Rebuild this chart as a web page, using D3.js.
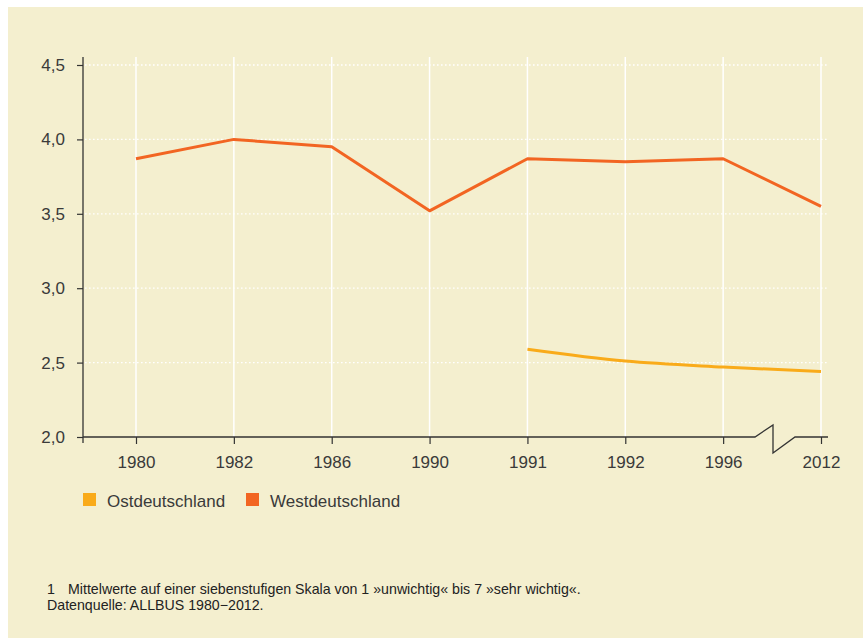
<!DOCTYPE html>
<html><head><meta charset="utf-8">
<script src="https://cdn.jsdelivr.net/npm/d3@7"></script>
<style>
html,body{margin:0;padding:0;background:#fff;}
svg{display:block;font-family:"Liberation Sans",Arial,Helvetica,sans-serif;}
</style></head>
<body>
<svg id="chart" width="863" height="638"></svg>
<script>
const years = ["1980","1982","1986","1990","1991","1992","1996","2012"];
const westValues = [3.87, 4.00, 3.95, 3.52, 3.87, 3.85, 3.87, 3.55];
const ostYears = ["1991","1992","1996","2012"];
const ostValues = [2.59, 2.51, 2.47, 2.44];
const yTicks = [2.0, 2.5, 3.0, 3.5, 4.0, 4.5];
const seriesNames = ["Ostdeutschland", "Westdeutschland"];
const seriesColors = ["#F9AB1A", "#F26522"];
const footnoteNum = "1";
const footnote1 = "Mittelwerte auf einer siebenstufigen Skala von 1 »unwichtig« bis 7 »sehr wichtig«.";
const footnote2 = "Datenquelle: ALLBUS 1980\u22122012.";

const svg = d3.select("#chart");
svg.append("rect").attr("x",8).attr("y",7).attr("width",855).attr("height",631).attr("fill","#F4EFCF");

const x = d3.scalePoint().domain(years).range([136, 821]);
const y = d3.scaleLinear().domain([2.0, 4.5]).range([437, 65]);
const axisLeft = 83, axisRight = 828;
const textColor = "#3a3a3a";

// vertical grid
svg.append("g").selectAll("line").data(years).join("line")
  .attr("x1", d=>x(d)).attr("x2", d=>x(d)).attr("y1", 57).attr("y2", 437)
  .attr("stroke","#fff").attr("stroke-width",1.5);
// horizontal grid
svg.append("g").selectAll("line").data(yTicks.slice(1)).join("line")
  .attr("x1", axisLeft+2).attr("x2", axisRight).attr("y1", d=>y(d)).attr("y2", d=>y(d))
  .attr("stroke","#fff").attr("stroke-width",1.3).attr("stroke-dasharray","1.6,2.4");

// y axis
const ya = svg.append("g").attr("transform",`translate(${axisLeft},0)`)
  .call(d3.axisLeft(y).tickValues(yTicks).tickSize(6).tickPadding(5)
    .tickFormat(d=>d3.format(".1f")(d).replace(".",",")));
ya.select(".domain").remove();
ya.selectAll(".tick line").attr("stroke","#333").attr("stroke-width",1.2);
ya.selectAll(".tick text").attr("fill",textColor).style("font-size","17px").attr("dx",-7);
svg.append("line").attr("x1",axisLeft).attr("x2",axisLeft).attr("y1",57).attr("y2",443)
  .attr("stroke","#333").attr("stroke-width",1.3);

// x axis
const xa = svg.append("g").attr("transform","translate(0,437)")
  .call(d3.axisBottom(x).tickSize(7).tickPadding(12));
xa.select(".domain").remove();
xa.selectAll(".tick line").attr("stroke","#333").attr("stroke-width",1.2);
xa.selectAll(".tick text").attr("fill",textColor).style("font-size","17px");
// axis line with break
const brk = d3.path();
brk.moveTo(axisLeft, 437); brk.lineTo(755, 437); brk.lineTo(773, 425); brk.lineTo(773, 453); brk.lineTo(795, 437); brk.lineTo(828, 437);
svg.append("path").attr("d", brk.toString()).attr("fill","none").attr("stroke","#333").attr("stroke-width",1.3);

// lines
const westData = years.map((yr,i)=>({yr, v: westValues[i]}));
const ostData = ostYears.map((yr,i)=>({yr, v: ostValues[i]}));
svg.append("path").datum(westData)
  .attr("d", d3.line().x(d=>x(d.yr)).y(d=>y(d.v)))
  .attr("fill","none").attr("stroke",seriesColors[1]).attr("stroke-width",3).attr("stroke-linejoin","round");
svg.append("path").datum(ostData)
  .attr("d", d3.line().curve(d3.curveMonotoneX).x(d=>x(d.yr)).y(d=>y(d.v)))
  .attr("fill","none").attr("stroke",seriesColors[0]).attr("stroke-width",3);

// legend
const legX = [83, 246];
const lg = svg.append("g");
seriesNames.forEach((n,i)=>{
  lg.append("rect").attr("x",legX[i]).attr("y",493).attr("width",13).attr("height",13).attr("fill",seriesColors[i]);
  lg.append("text").attr("x",legX[i]+24).attr("y",507).attr("fill",textColor).style("font-size","17px").text(n);
});

// footnotes
const fs = "14.2px";
svg.append("text").attr("x",47).attr("y",594).attr("fill","#222").style("font-size",fs).text(footnoteNum);
svg.append("text").attr("x",68).attr("y",594).attr("fill","#222").style("font-size",fs).text(footnote1);
svg.append("text").attr("x",47).attr("y",610).attr("fill","#222").style("font-size",fs).text(footnote2);
</script>
</body></html>
